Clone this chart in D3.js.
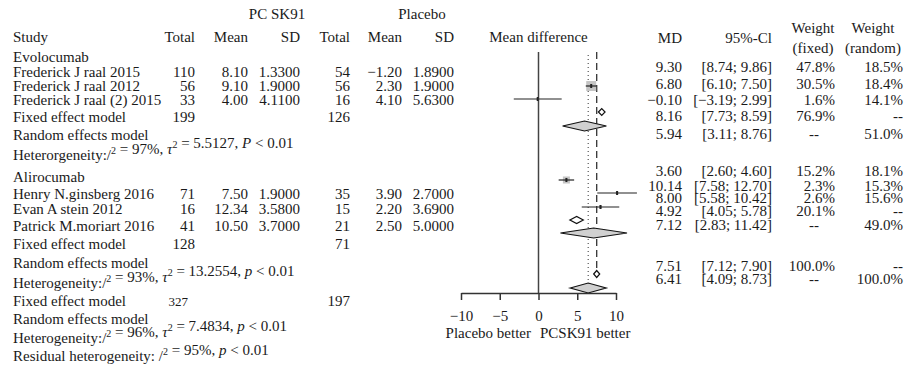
<!DOCTYPE html>
<html>
<head>
<meta charset="utf-8">
<script src="https://cdn.jsdelivr.net/npm/d3@7"></script>
<style>
  body { margin: 0; background: #fff; }
  text { font-family: "Liberation Serif", "Times New Roman", serif; font-size: 15px; fill: #1a1a1a; }
</style>
</head>
<body>
<script>
// study data
var studies = ["Frederick J raal 2015", "Frederick J raal 2012", "Frederick J raal (2) 2015",
  "Henry N.ginsberg 2016", "Evan A stein 2012", "Patrick M.moriart 2016"];
var groups = ["Evolocumab", "Alirocumab"];
var pcTotal = [110, 56, 33, 71, 16, 41];
var pcMean = [8.10, 9.10, 4.00, 7.50, 12.34, 10.50];
var pcSD = [1.33, 1.90, 4.11, 1.90, 3.58, 3.70];
var plTotal = [54, 56, 16, 35, 15, 21];
var plMean = [-1.20, 2.30, 4.10, 3.90, 2.20, 2.50];
var plSD = [1.89, 1.90, 5.63, 2.70, 3.69, 5.00];
var md = [9.30, 6.80, -0.10, 3.60, 10.14, 8.00];
var ciLow = [8.74, 6.10, -3.19, 2.60, 7.58, 5.58];
var ciHigh = [9.86, 7.50, 2.99, 4.60, 12.70, 10.42];
var wFixed = [47.8, 30.5, 1.6, 15.2, 2.3, 2.6];
var wRandom = [18.5, 18.4, 14.1, 18.1, 15.3, 15.6];

// summary data: Evolocumab fixed/random, Alirocumab fixed/random, overall fixed/random
var sumMD = [8.16, 5.94, 4.92, 7.12, 7.51, 6.41];
var sumLow = [7.73, 3.11, 4.05, 2.83, 7.12, 4.09];
var sumHigh = [8.59, 8.76, 5.78, 11.42, 7.90, 8.73];
var sumWFixed = [76.9, null, 20.1, null, 100.0, null];
var sumWRandom = [null, 51.0, null, 49.0, null, 100.0];
var fixedPcTotal = [199, 128, 327];
var fixedPlTotal = [126, 71, 197];

// heterogeneity
var hetWord = ["Heterorgeneity:", "Heterogeneity:", "Heterogeneity:"];
var hetI2 = [97, 93, 96];
var hetTau2 = [5.5127, 13.2554, 7.4834];
var hetP = ["P", "p", "p"];
var residI2 = 95;

var ticks = [-10, -5, 0, 5, 10];

// layout
var W = 907, H = 372;
var studyLeftY = [72, 86, 100, 194, 209, 226];
var studyRightY = [67, 84, 100, 171, 186, 198];
var studyMarkY = [72, 86, 99, 180, 193, 207];
var groupY = [57, 177];
var sumLeftY = [117, 135, 244, 263, 301, 319];
var sumRightY = [116, 134, 211, 225, 266, 279];
var sumMarkY = [112, 126, 220, 233, 274, 288];
var hetY = [155, 283, 338];
var residY = 356;
var col = { study: 13, pcT: 195, pcM: 248, pcS: 300, plT: 350, plM: 402, plS: 454,
  md: 682, ci: 772, wf: 835, wr: 903 };
var axisY = 293;
var base = 5; // text centre -> baseline

var svg = d3.select("body").append("svg").attr("width", W).attr("height", H);

var x = d3.scaleLinear().domain([-10, 10]).range([461, 616]);

var f2 = d3.format(".2f"), f4 = d3.format(".4f"), f1 = d3.format(".1f");
function num(v, f) { return f(v).replace("-", "\u2212"); }

function txt(s, xx, yy, anchor) {
  return svg.append("text").attr("x", xx).attr("y", yy + base)
    .attr("text-anchor", anchor || "start").text(s);
}

// headers
txt("PC SK91", 277, 14, "middle");
txt("Placebo", 422, 14, "middle");
txt("Study", col.study, 37);
txt("Total", col.pcT, 37, "end");
txt("Mean", col.pcM, 37, "end");
txt("SD", col.pcS, 37, "end");
txt("Total", col.plT, 37, "end");
txt("Mean", col.plM, 37, "end");
txt("SD", col.plS, 37, "end");
txt("Mean difference", x(0), 37, "middle");
txt("MD", col.md, 38, "end");
txt("95%-Cl", col.ci, 38, "end");
txt("Weight", 813, 28, "middle");
txt("(fixed)", 813, 48, "middle");
txt("Weight", 873, 28, "middle");
txt("(random)", 873, 48, "middle");

// group labels
groups.forEach(function (g, i) { txt(g, col.study, groupY[i]); });

// study rows: left table
studies.forEach(function (s, i) {
  var y = studyLeftY[i];
  txt(s, col.study, y);
  txt(pcTotal[i], col.pcT, y, "end");
  txt(num(pcMean[i], f2), col.pcM, y, "end");
  txt(num(pcSD[i], f4), col.pcS, y, "end");
  txt(plTotal[i], col.plT, y, "end");
  txt(num(plMean[i], f2), col.plM, y, "end");
  txt(num(plSD[i], f4), col.plS, y, "end");
});

// study rows: right table
studies.forEach(function (s, i) {
  var y = studyRightY[i];
  txt(num(md[i], f2), col.md, y, "end");
  txt("[" + num(ciLow[i], f2) + "; " + num(ciHigh[i], f2) + "]", col.ci, y, "end");
  txt(f1(wFixed[i]) + "%", col.wf, y, "end");
  txt(f1(wRandom[i]) + "%", col.wr, y, "end");
});

// summary rows
sumMD.forEach(function (v, i) {
  var isFixed = i % 2 === 0;
  var ly = sumLeftY[i];
  txt(isFixed ? "Fixed effect model" : "Random effects model", col.study, ly);
  if (isFixed) {
    var t = txt(fixedPcTotal[i / 2], col.pcT, ly, "end");
    if (i === 4) t.attr("x", col.pcT - 7).style("font-size", "13px");
    txt(fixedPlTotal[i / 2], col.plT, ly, "end");
  }
  var ry = sumRightY[i];
  txt(num(v, f2), col.md, ry, "end");
  txt("[" + num(sumLow[i], f2) + "; " + num(sumHigh[i], f2) + "]", col.ci, ry, "end");
  if (sumWFixed[i] != null) txt(f1(sumWFixed[i]) + "%", col.wf, ry, "end");
  else txt("--", 814, ry, "middle");
  if (sumWRandom[i] != null) txt(f1(sumWRandom[i]) + "%", col.wr, ry, "end");
  else txt("--", col.wr, ry, "end");
});

// heterogeneity lines
function sup(t) {
  t.append("tspan").attr("dy", -6).style("font-size", "10px").text("2");
  t.append("tspan").attr("dy", 6).text("");
}
hetWord.forEach(function (w, i) {
  var t = txt("", col.study, hetY[i]);
  t.append("tspan").text(w + "/");
  sup(t);
  t.append("tspan").text(" = " + hetI2[i] + "%, ");
  t.append("tspan").style("font-style", "italic").text("\u03c4");
  sup(t);
  t.append("tspan").text(" = " + f4(hetTau2[i]) + ", ");
  t.append("tspan").style("font-style", "italic").text(hetP[i]);
  t.append("tspan").text(" < 0.01");
});
var rt = txt("", col.study, residY);
rt.append("tspan").text("Residual heterogeneity: /");
sup(rt);
rt.append("tspan").text(" = " + residI2 + "%, ");
rt.append("tspan").style("font-style", "italic").text("p");
rt.append("tspan").text(" < 0.01");

// reference lines
svg.append("line").attr("x1", x(0)).attr("x2", x(0)).attr("y1", 52).attr("y2", axisY)
  .attr("stroke", "#444").attr("stroke-width", 1.5);
svg.append("line").attr("x1", x(sumMD[4])).attr("x2", x(sumMD[4])).attr("y1", 52).attr("y2", 270)
  .attr("stroke", "#333").attr("stroke-width", 1.3).attr("stroke-dasharray", "7,4");
svg.append("line").attr("x1", x(sumMD[5])).attr("x2", x(sumMD[5])).attr("y1", 55).attr("y2", 287)
  .attr("stroke", "#333").attr("stroke-width", 1).attr("stroke-dasharray", "1,3");

// study marks (the first study has no mark in the original figure)
var marks = svg.append("g");
studies.forEach(function (s, i) {
  if (i === 0) return;
  var y = studyMarkY[i];
  var side = 1.8 * Math.sqrt(wFixed[i]);
  marks.append("rect").attr("x", x(md[i]) - side / 2).attr("y", y - side / 2)
    .attr("width", side).attr("height", side).attr("fill", "#c4c4c4");
  marks.append("line").attr("x1", x(ciLow[i])).attr("x2", x(ciHigh[i]))
    .attr("y1", y).attr("y2", y).attr("stroke", "#222").attr("stroke-width", 1.2);
  marks.append("rect").attr("x", x(md[i]) - 1).attr("y", y - 2)
    .attr("width", 2).attr("height", 4).attr("fill", "#222");
});

// summary diamonds
sumMD.forEach(function (v, i) {
  var isFixed = i % 2 === 0;
  var y = sumMarkY[i], hh = isFixed ? 3.5 : 5;
  var pts = [[x(sumLow[i]), y], [x(v), y - hh], [x(sumHigh[i]), y], [x(v), y + hh]];
  marks.append("polygon").attr("points", pts.map(function (p) { return p.join(","); }).join(" "))
    .attr("fill", isFixed ? "#fff" : "#d0d0d0").attr("stroke", "#111").attr("stroke-width", 1.2);
});

// axis
var axis = svg.append("g").attr("transform", "translate(0," + axisY + ")")
  .call(d3.axisBottom(x).tickValues(ticks).tickSize(7).tickSizeOuter(0).tickPadding(10));
axis.selectAll("path, line").attr("stroke", "#333").attr("stroke-width", 1.5);
axis.selectAll("text").style("font-family", "Liberation Serif, serif").style("font-size", "15px").attr("fill", "#1a1a1a");

txt("Placebo better", 531, 333, "end");
txt("PCSK91 better", 540, 333, "start");
</script>
</body>
</html>
